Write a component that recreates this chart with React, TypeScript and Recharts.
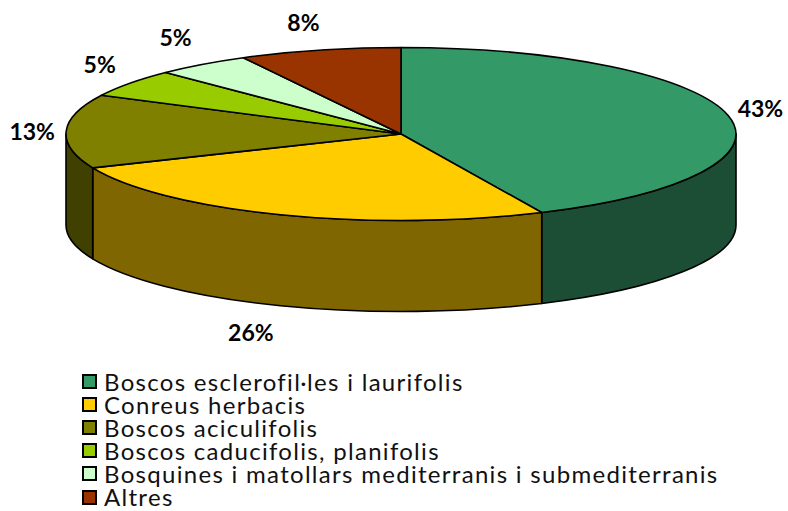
import { PieChart, Pie, Legend } from "recharts";

const names = [
  "Boscos esclerofil·les i laurifolis",
  "Conreus herbacis",
  "Boscos aciculifolis",
  "Boscos caducifolis, planifolis",
  "Bosquines i matollars mediterranis i submediterranis",
  "Altres",
];
// slice sizes as measured off the rim, the printed labels are rounded differently
const shares = [43.1, 25.5, 13.8, 5.2, 4.6, 7.8];
const printed = ["43%", "26%", "13%", "5%", "5%", "8%"];
const topColors = ["#339966", "#FFCC00", "#808000", "#99CC00", "#CCFFCC", "#993300"];
const wallColors = ["#1C4E36", "#806600", "#404000", "#4C6600", "#668066", "#4C1900"];
// small hand nudges for the percent labels, the original has them placed by hand
const labelNudgeX = [3, -19, -4, -6, -9, -9];
const labelNudgeY = [0, -5, 1, 1, 0, 4];

const data = names.map((name, i) => ({
  name,
  value: shares[i],
  fill: topColors[i],
  wall: wallColors[i],
  printed: printed[i],
  nudgeX: labelNudgeX[i],
  nudgeY: labelNudgeY[i],
}));

const SQUASH = 86.5 / 335;
const DEPTH = 91;
const FONT = "Lato, sans-serif";

// recharts angles run counter-clockwise from 3 o'clock
const rim = (cx: number, cy: number, r: number, deg: number) => {
  const a = (deg * Math.PI) / 180;
  return { x: cx + r * Math.cos(a), y: cy - r * SQUASH * Math.sin(a) };
};

function TopFace(props: any) {
  const { cx, cy, outerRadius: r, startAngle, endAngle, fill } = props;
  const p1 = rim(cx, cy, r, startAngle);
  const p2 = rim(cx, cy, r, endAngle);
  const large = Math.abs(startAngle - endAngle) > 180 ? 1 : 0;
  const d = `M${cx},${cy}L${p1.x},${p1.y}A${r},${r * SQUASH} 0 ${large} 1 ${p2.x},${p2.y}Z`;
  return <path d={d} fill={fill} stroke="#000" strokeWidth={1.6} strokeLinejoin="round" />;
}

function SideWall(props: any) {
  const { cx, cy, outerRadius: r, startAngle, endAngle } = props;
  const wall = props.wall ?? props.payload?.wall;
  // only the front half of the rim (0 to -180) shows
  const from = Math.min(startAngle, 0);
  const to = Math.max(endAngle, -180);
  if (from <= to) return <g />;
  const p1 = rim(cx, cy, r, from);
  const p2 = rim(cx, cy, r, to);
  const ry = r * SQUASH;
  const d =
    `M${p1.x},${p1.y}A${r},${ry} 0 0 1 ${p2.x},${p2.y}` +
    `L${p2.x},${p2.y + DEPTH}A${r},${ry} 0 0 0 ${p1.x},${p1.y + DEPTH}Z`;
  return <path d={d} fill={wall} stroke="#000" strokeWidth={1.6} strokeLinejoin="round" />;
}

function PercentLabel(props: any) {
  const { cx, cy, midAngle } = props;
  const item = props.payload ?? props;
  const a = (midAngle * Math.PI) / 180;
  const s = Math.sin(a);
  const x = cx + 365 * Math.cos(a) + (item.nudgeX ?? 0);
  const y = cy - 120 * s + (s < 0 ? DEPTH : 0) + (item.nudgeY ?? 0);
  return (
    <text x={x} y={y} textAnchor="middle" dominantBaseline="central" fontFamily={FONT} fontWeight={700} fontSize={23} fill="#000">
      {item.printed}
    </text>
  );
}

function LegendRows({ payload }: any) {
  // both pies feed the legend, keep one row per name
  const rows = (payload ?? []).filter(
    (item: any, i: number, all: any[]) => all.findIndex((o) => o.value === item.value) === i,
  );
  return (
    <div style={{ fontFamily: FONT, fontWeight: 400, fontSize: 24, color: "#111", letterSpacing: 1.3 }}>
      {rows.map((item: any) => (
        <div key={item.value} style={{ height: 23.2, lineHeight: "23.2px", display: "flex", alignItems: "center", whiteSpace: "nowrap" }}>
          <span style={{ width: 11, height: 11, border: "2px solid #000", background: item.color, marginRight: 7, flex: "none" }} />
          {item.value}
        </div>
      ))}
    </div>
  );
}

export default function App() {
  return (
    <div style={{ position: "absolute", left: 0, top: 0, width: 788, height: 511, background: "#fff" }}>
      <PieChart width={788} height={511} margin={{ top: 0, right: 0, bottom: 0, left: 0 }}>
        <Pie
          data={data}
          dataKey="value"
          nameKey="name"
          cx={401}
          cy={134}
          outerRadius={335}
          startAngle={90}
          endAngle={-270}
          shape={SideWall}
          legendType="none"
          label={false}
          isAnimationActive={false}
        />
        <Pie
          data={data}
          dataKey="value"
          nameKey="name"
          cx={401}
          cy={134}
          outerRadius={335}
          startAngle={90}
          endAngle={-270}
          shape={TopFace}
          label={PercentLabel}
          labelLine={false}
          isAnimationActive={false}
        />
        <Legend
          content={LegendRows}
          itemSorter={null}
          layout="horizontal"
          verticalAlign="bottom"
          align="center"
          wrapperStyle={{ left: 82, top: 369.5, bottom: "auto", width: 690 }}
        />
      </PieChart>
    </div>
  );
}
